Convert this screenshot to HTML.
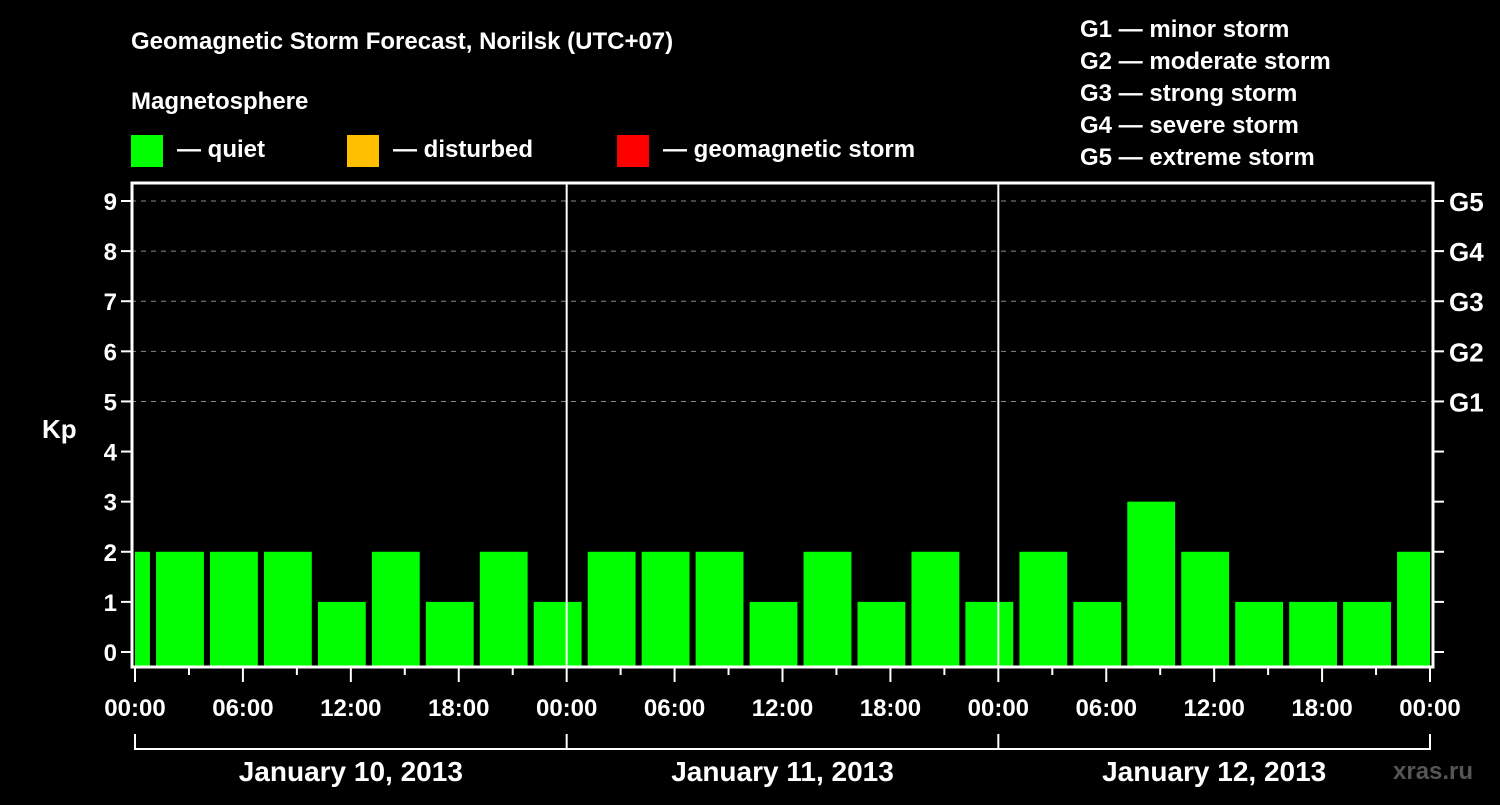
<!DOCTYPE html>
<html><head><meta charset="utf-8"><style>
body{margin:0;background:#000;width:1500px;height:800px;overflow:hidden}
text{font-family:"Liberation Sans",Arial,sans-serif;font-weight:bold;fill:#fff}
</style></head><body>
<svg id="chart" width="1500" height="800" xmlns="http://www.w3.org/2000/svg">
<rect width="1500" height="800" fill="#000"/>
<text x="131" y="49" font-size="24">Geomagnetic Storm Forecast, Norilsk (UTC+07)</text>
<text x="131" y="109" font-size="24">Magnetosphere</text>
<g><rect x="131" y="135" width="32" height="32" fill="#00ff00"/><text x="177" y="157" font-size="24">— quiet</text></g>
<g><rect x="347" y="135" width="32" height="32" fill="#ffbf00"/><text x="393" y="157" font-size="24">— disturbed</text></g>
<g><rect x="617" y="135" width="32" height="32" fill="#ff0000"/><text x="663" y="157" font-size="24">— geomagnetic storm</text></g>
<g font-size="24">
<text x="1080" y="37">G1 — minor storm</text>
<text x="1080" y="69">G2 — moderate storm</text>
<text x="1080" y="101">G3 — strong storm</text>
<text x="1080" y="133">G4 — severe storm</text>
<text x="1080" y="165">G5 — extreme storm</text>
</g>
<text x="42" y="438" font-size="26">Kp</text>
<g id="plot"></g>
<text x="1393" y="779" font-size="24" fill="#666" style="fill:#555">xras.ru</text>
</svg>
<script>
const kpValues=[2,2,2,2,1,2,1,2,1,2,2,2,1,2,1,2,1,2,1,3,2,1,1,1,2];
const barCenterHours=[-0.5,2.5,5.5,8.5,11.5,14.5,17.5,20.5,23.5,26.5,29.5,32.5,35.5,38.5,41.5,44.5,47.5,50.5,53.5,56.5,59.5,62.5,65.5,68.5,71.5];
const xTickLabels=["00:00","06:00","12:00","18:00","00:00","06:00","12:00","18:00","00:00","06:00","12:00","18:00","00:00"];
const dayLabels=["January 10, 2013","January 11, 2013","January 12, 2013"];
const yTicks=[0,1,2,3,4,5,6,7,8,9];
const gLabels=[[5,"G1"],[6,"G2"],[7,"G3"],[8,"G4"],[9,"G5"]];
const NS="http://www.w3.org/2000/svg";
const g=document.getElementById('plot');
const X0=135,X1=1430,L=131,R=1434,T=182,B=668;
const x=h=>X0+(X1-X0)*h/72;
const y=v=>652-(652-201)*v/9;
function mk(t,a,p){const e=document.createElementNS(NS,t);for(const k in a)e.setAttribute(k,a[k]);(p||g).appendChild(e);return e;}
// grid
gLabels.forEach(d=>{const e=mk('line',{x1:L,x2:R,y1:y(d[0]),y2:y(d[0]),stroke:'#888','stroke-dasharray':'5,5','stroke-width':1});

});
// bars
kpValues.forEach((v,i)=>{const c=barCenterHours[i];let a=Math.max(0,c-1.33),b=Math.min(72,c+1.33);
const color=v>=5?'#ff0000':(v>=4?'#ffbf00':'#00ff00');
const e=mk('rect',{x:x(a),y:y(v),width:x(b)-x(a),height:B-y(v),fill:color});

});
// day dividers
[24,48].forEach(h=>{const e=mk('line',{x1:x(h),x2:x(h),y1:T,y2:B,stroke:'#fff','stroke-width':2});

});
// frame
const fr=mk('rect',{x:L+1,y:T+1,width:R-L-2,height:B-T-2,fill:'none',stroke:'#fff','stroke-width':3});


// y ticks
yTicks.forEach(v=>{mk('line',{x1:L-10,x2:L,y1:y(v),y2:y(v),stroke:'#fff','stroke-width':2});
mk('line',{x1:R,x2:R+10,y1:y(v),y2:y(v),stroke:'#fff','stroke-width':2});
const t=mk('text',{x:L-14,y:y(v)+9,'font-size':24,'text-anchor':'end'});t.textContent=v;

});
gLabels.forEach(d=>{const t=mk('text',{x:R+15,y:y(d[0])+10,'font-size':26});t.textContent=d[1];

});
// x ticks
for(let h=0;h<=72;h+=3){const major=h%6==0;mk('line',{x1:x(h),x2:x(h),y1:B,y2:B+(major?14:7),stroke:'#fff','stroke-width':2});}
xTickLabels.forEach((s,i)=>{const t=mk('text',{x:x(i*6),y:716,'font-size':24,'text-anchor':'middle'});t.textContent=s;

});
// day bracket
mk('line',{x1:X0,x2:X1,y1:749,y2:749,stroke:'#fff','stroke-width':2});
[0,24,48,72].forEach(h=>mk('line',{x1:x(h),x2:x(h),y1:734,y2:750,stroke:'#fff','stroke-width':2}));
dayLabels.forEach((s,i)=>{const t=mk('text',{x:x(i*24+12),y:781,'font-size':28,'text-anchor':'middle'});t.textContent=s;

});
</script>
</body></html>
